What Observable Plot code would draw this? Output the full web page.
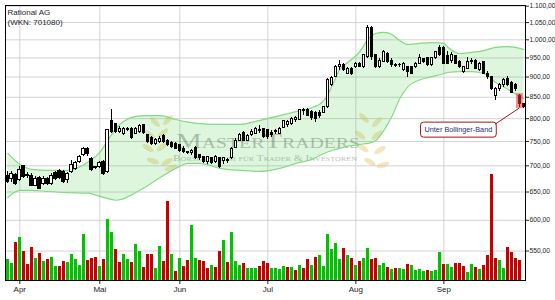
<!DOCTYPE html>
<html><head><meta charset="utf-8">
<script src="https://cdn.jsdelivr.net/npm/d3@7"></script>
<script src="https://cdn.jsdelivr.net/npm/@observablehq/plot@0.6"></script>
<style>
html,body{margin:0;padding:0;background:#fff;}
#chart{position:relative;width:555px;height:300px;overflow:hidden;}
#chart > svg{position:absolute;left:0;top:0;}
</style></head><body><div id="chart"></div>
<script>
// ---- data ----
const title = "Rational AG";
const subtitle = "(WKN: 701080)";
const monthIdx = [3, 23, 43, 65, 87, 109];
const monthLabels = ["Apr", "Mai", "Jun", "Jul", "Aug", "Sep"];
const priceTicks = [550, 600, 650, 700, 750, 800, 850, 900, 950, 1000, 1050, 1100];

const open = [681,675,683,673,699,682,681,662,677,665,675,664,686,689,688,672,688,694,708,721,
735,714,697,697,707,688,794,788,771,767,777,778,767,771,785,763,757,745,749,761,
752,747,745,742,735,727,725,737,721,717,707,715,707,715,709,711,715,737,752,769,
752,763,767,774,776,774,769,771,767,780,785,789,796,798,817,819,816,814,812,814,
826,879,900,925,930,909,920,925,935,925,952,1035,957,925,940,962,943,931,930,917,
925,925,925,935,946,949,930,949,976,978,954,943,954,938,912,922,943,943,917,938,
909,899,854,869,879,896,884,881,854,833];
const high = [688,689,685,699,701,687,685,679,679,679,677,685,689,693,691,687,711,709,721,738,
737,717,699,709,711,776,822,790,783,780,780,780,780,787,787,765,761,757,761,765,
754,750,748,744,740,729,733,740,723,719,719,717,721,717,717,715,737,756,767,771,
765,776,780,785,778,776,774,776,780,796,796,802,805,821,824,824,819,816,819,828,
896,902,930,943,935,925,925,938,938,960,1041,1038,960,949,970,965,949,935,935,938,
928,928,938,960,949,952,952,968,984,981,968,965,957,943,928,952,949,946,938,940,
914,901,874,884,896,901,889,884,856,835];
const low = [665,668,662,670,676,676,660,660,654,662,662,662,672,674,666,666,685,691,705,719,
719,689,693,695,681,685,768,768,768,763,772,754,765,768,765,746,742,742,746,746,
740,736,733,727,725,723,721,713,711,705,703,703,705,695,703,705,713,735,750,750,
750,761,765,767,757,754,759,765,765,778,780,785,792,796,807,805,796,792,800,812,
823,876,898,917,915,907,904,922,925,922,949,943,922,922,938,935,925,925,925,915,
899,907,922,933,935,928,928,946,954,933,933,935,933,922,909,920,933,920,915,907,
894,866,842,864,874,876,859,864,826,823];
const close = [668,684,665,691,678,680,662,675,656,675,664,681,675,677,668,684,701,706,718,735,
723,691,695,706,684,774,771,771,778,778,775,757,778,783,769,749,745,754,756,749,
742,738,734,729,727,725,731,715,715,707,717,705,717,697,715,709,735,752,763,752,
761,771,776,773,759,759,763,772,778,794,792,800,802,819,819,807,802,800,805,826,
893,898,925,930,917,920,909,935,927,957,1035,952,925,943,965,940,930,929,931,935,
912,909,935,949,938,930,949,965,957,935,935,957,935,925,925,938,938,922,935,909,
899,869,869,881,893,881,861,871,833,826];

const volume = [21,17,38,43,29,16,33,22,27,19,21,23,14,14,19,18,26,21,15,46,
20,22,23,14,21,61,48,31,18,26,21,18,36,29,13,26,26,12,34,19,
79,26,9,22,14,20,55,22,20,19,12,15,13,29,40,18,48,19,15,17,
12,12,12,14,19,17,12,12,11,14,13,13,10,15,12,21,15,23,25,14,
46,31,37,21,32,25,22,15,19,22,32,21,22,15,17,13,11,12,12,11,
16,15,10,11,9,10,9,10,28,16,16,13,17,17,14,8,16,13,11,15,
25,106,22,20,12,33,28,22,20];
const volUp = [1,1,0,1,0,0,0,1,0,1,0,1,1,0,0,1,1,1,1,1,
0,0,0,1,0,1,1,0,0,1,1,0,1,1,0,0,0,1,1,0,
0,1,0,1,0,0,1,1,0,0,0,1,0,0,1,0,1,1,1,0,
1,1,1,0,0,0,1,1,1,1,0,1,0,1,0,0,1,0,1,1,
1,1,1,1,0,1,0,1,0,1,1,0,0,1,1,0,1,0,1,1,
0,1,1,1,1,0,1,1,1,0,1,1,0,0,0,1,1,0,1,0,
0,0,0,1,1,0,0,0,0];

const bandIdx   = [0,3,6,10,15,20,23,25,27,29,32,35,38,42,45,48,53,58,63,68,72,76,79,81,83,85,88,90,92,94,96,98,100,103,106,109,110,113,116,119,122,125,128,129];
const bandUpper = [725,703,693,691,691,707,727,752,778,794,805,807,807,798,792,789,787,787,796,807,816,825,842,876,920,938,967,1001,1018,1021,1015,998,987,990,992,990,979,962,965,970,979,981,976,973];
const bandLower = [640,653,653,651,649,648,642,638,635,638,649,662,677,695,705,705,695,691,689,695,705,713,725,731,736,740,744,746,752,774,805,847,876,893,901,909,912,914,914,909,886,869,852,847];

const signal = {i: 128, label: "Unter Bollinger-Band"};
const watermark = "MasterTraders";
const watermarkSub = "Börsenforum für Trader & Investoren";

// ---- derived tables ----
const candles = open.map((o, i) => ({i, open: o, high: high[i], low: low[i], close: close[i]}));
const vols = volume.map((v, i) => ({i, v, up: volUp[i] === 1}));
const band = bandIdx.map((i, k) => ({i, upper: bandUpper[k], lower: bandLower[k]}));
const monthName = new Map(monthIdx.map((d, k) => [d, monthLabels[k]]));
const fmt = d3.formatLocale({decimal: ",", thousands: ".", grouping: [3], currency: ["", ""]}).format(",.2f");

const W = 555, H = 300;
const base = {
  width: W, height: H,
  marginLeft: 5, marginRight: 30, marginTop: 5, marginBottom: 20,
  style: {background: "transparent", fontFamily: "'Liberation Sans', Arial, sans-serif", overflow: "visible"}
};
const xDom = {domain: [-0.575, 129.4]};
const yPrice = {type: "log", domain: [506, 1102]};
const halfBody = 0.33, halfVol = 0.375;

const root = document.getElementById("chart");

// Layer A: grid, axes, frame
const A = Plot.plot({...base,
  x: {...xDom}, y: {...yPrice},
  marks: [
    Plot.ruleY(priceTicks, {stroke: "#d3d3d3", strokeWidth: 1}),
    Plot.ruleX(monthIdx, {stroke: "#d3d3d3", strokeWidth: 1}),
    Plot.axisY(priceTicks, {anchor: "right", tickSize: 3, tickPadding: 1, tickFormat: fmt, fontSize: 6.7, label: null, color: "#222"}),
    Plot.axisX(monthIdx, {anchor: "bottom", tickSize: 4, tickPadding: 2, tickFormat: d => monthName.get(d), fontSize: 8, label: null, color: "#222"}),
    Plot.frame({stroke: "#000"})
  ]
});
root.appendChild(A);

// Watermark layer (decoration)
const wm = d3.create("svg").attr("width", W).attr("height", H);
const leavesL = [[155,122,45],[168,120,-45],[150,135,40],[163,133,-40],[148,148,30],[162,147,-35],[153,161,20],[167,162,-30],[171,168,-20]];
const leavesR = [[364,118,45],[377,122,-45],[360,135,40],[377,135,-40],[363,148,35],[380,150,-30],[370,162,30],[383,165,-20]];
for (const [cx, cy, r] of leavesL.concat(leavesR)) {
  wm.append("ellipse").attr("cx", cx).attr("cy", cy).attr("rx", 6.5).attr("ry", 2.6)
    .attr("transform", `rotate(${r},${cx},${cy})`).attr("fill", "#e6c676").attr("fill-opacity", 0.45);
}
wm.append("text").attr("x", 176).attr("y", 147.5).text(watermark)
  .attr("font-family", "'Liberation Serif', 'DejaVu Serif', serif").attr("font-size", 22)
  .style("font-variant", "small-caps").attr("textLength", 184).attr("lengthAdjust", "spacingAndGlyphs")
  .attr("fill", "#7a7a7a").attr("fill-opacity", 0.5);
wm.append("text").attr("x", 173).attr("y", 161).text(watermarkSub)
  .attr("font-family", "'Liberation Serif', 'DejaVu Serif', serif").attr("font-size", 8.5)
  .style("font-variant", "small-caps").attr("textLength", 184).attr("lengthAdjust", "spacingAndGlyphs")
  .attr("fill", "#7a7a7a").attr("fill-opacity", 0.5);
root.appendChild(wm.node());

// Layer B: volume
const B = Plot.plot({...base,
  x: {...xDom, axis: null}, y: {domain: [0, 275], axis: null},
  marks: [
    Plot.rectY(vols.filter(d => d.up), {x1: d => d.i - halfVol, x2: d => d.i + halfVol, y: "v", fill: "#00c400", shapeRendering: "crispEdges"}),
    Plot.rectY(vols.filter(d => !d.up), {x1: d => d.i - halfVol, x2: d => d.i + halfVol, y: "v", fill: "#c80000", shapeRendering: "crispEdges"})
  ]
});
root.appendChild(B);

// Layer C: Bollinger band, candles, annotation
const C = Plot.plot({...base,
  x: {...xDom, axis: null}, y: {...yPrice, axis: null},
  marks: [
    Plot.areaY(band, {x: "i", y1: "lower", y2: "upper", fill: "#3cc83c", fillOpacity: 0.17, curve: "monotone-x"}),
    Plot.line(band, {x: "i", y: "upper", stroke: "#84da84", strokeWidth: 1.2, curve: "monotone-x"}),
    Plot.line(band, {x: "i", y: "lower", stroke: "#84da84", strokeWidth: 1.2, curve: "monotone-x"}),
    Plot.ruleX(candles, {x: "i", y1: "low", y2: "high", stroke: "#000", strokeWidth: 1, shapeRendering: "crispEdges"}),
    Plot.rect(candles.filter(d => d.close < d.open), {x1: d => d.i - halfBody, x2: d => d.i + halfBody, y1: "open", y2: "close", fill: "#000", stroke: "#000", strokeWidth: 1, shapeRendering: "crispEdges"}),
    Plot.rect(candles.filter(d => d.close >= d.open), {x1: d => d.i - halfBody, x2: d => d.i + halfBody, y1: "open", y2: "close", fill: "#fff", stroke: "#000", strokeWidth: 1, shapeRendering: "crispEdges"}),
    Plot.rect([signal], {x1: d => d.i - 0.85, x2: d => d.i + 0.85, y1: d => low[d.i] * 0.997, y2: d => high[d.i] * 1.003, fill: "#ee3333", fillOpacity: 0.55}),
    Plot.text([`${title}\n${subtitle}`], {frameAnchor: "top-left", dx: 2, dy: 2, lineAnchor: "top", textAnchor: "start", fontSize: 8, lineHeight: 1.25, fill: "#1b1b30"})
  ]
});
root.appendChild(C);

// annotation label, box and connector, positioned through the plot's scales
{
  const sx = C.scale("x"), sy = C.scale("y");
  const px = sx.apply(signal.i), py = sy.apply(low[signal.i] * 0.997);
  const svg = d3.select(C);
  const g = svg.append("g");
  const rect = g.append("rect");
  const txt = g.append("text").attr("x", px - 61).attr("y", py + 24.2)
    .attr("text-anchor", "middle").attr("font-size", 7.3)
    .attr("font-family", "'Liberation Sans', Arial, sans-serif").attr("fill", "#1d2f6b")
    .text(signal.label);
  const bb = txt.node().getBBox();
  const bx = bb.x - 4, by = bb.y - 3, bw = bb.width + 8, bh = bb.height + 6;
  rect.attr("x", bx).attr("y", by).attr("width", bw).attr("height", bh)
    .attr("rx", 3).attr("fill", "#fff").attr("stroke", "#a31515").attr("stroke-width", 1);
  g.append("line").attr("x1", bx + bw - 1).attr("y1", by + 2).attr("x2", px).attr("y2", py)
    .attr("stroke", "#a31515").attr("stroke-width", 1);
}
</script></body></html>
